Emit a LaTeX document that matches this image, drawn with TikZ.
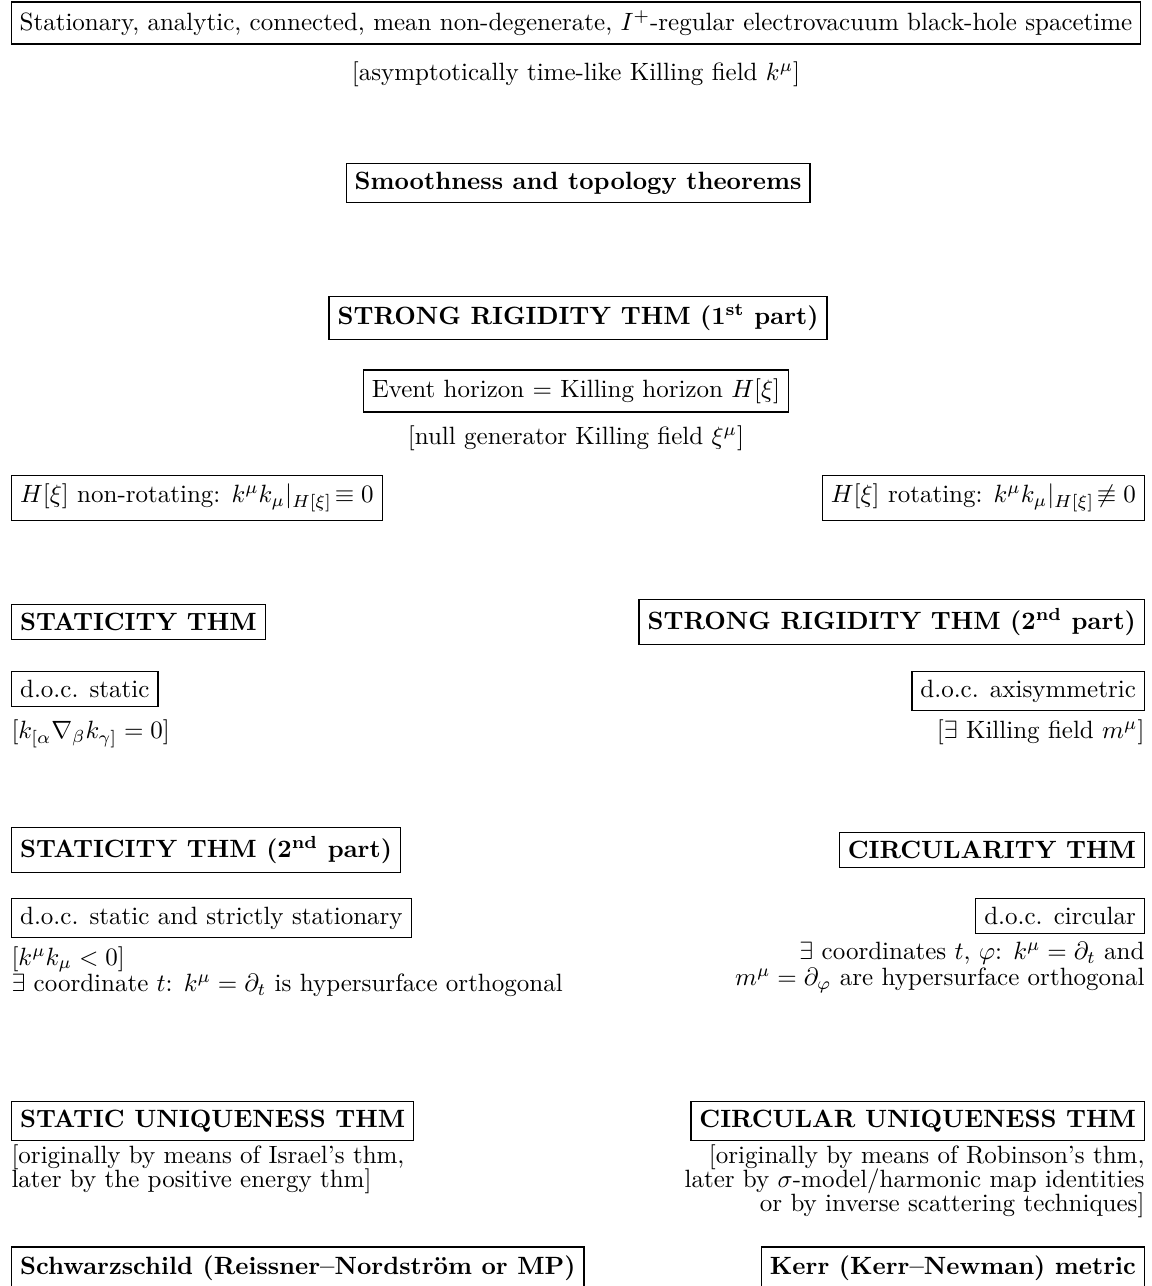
\documentclass[tikz,border=0pt]{standalone}
\usepackage{amsmath}
\usepackage{amssymb}
\usetikzlibrary{positioning}

\begin{document}
\begin{tikzpicture}[
    x=0.4pt, y=-0.4pt,
    box/.style={draw, line width=0.5pt, inner sep=3.4pt},
    thm/.style={box, font=\bfseries},
    note/.style={inner sep=0pt},
    node distance=5pt
]
\useasboundingbox (0,0) rectangle (1152,1286);

% centre column
\node[box] (bh) at (576,23) {Stationary, analytic, connected, mean non-degenerate, $I^+$-regular electrovacuum black-hole spacetime};
\node[note, below=6.5pt of bh] (kfield) {[asymptotically time-like Killing field $k^\mu$]};
\node[thm] (smooth) at (578,183) {Smoothness and topology theorems};
\node[thm] (rigid1) at (578,318) {STRONG RIGIDITY THM (1\textsuperscript{st} part)};
\node[box] (horizon) at (576,391) {Event horizon $=$ Killing horizon $H[\xi]$};
\node[note, below=of horizon] (nullgen) {[null generator Killing field $\xi^\mu$]};

% left column: non-rotating branch
\node[box, anchor=west] (nonrot) at (11,498) {$H[\xi]$ non-rotating: $k^\mu k_\mu|_{H[\xi]}\!\equiv 0$};
\node[thm, anchor=west] (stat1) at (11,622) {STATICITY THM};
\node[box, anchor=west] (static) at (11,689) {d.o.c. static};
\node[note, below=of static.south west, anchor=north west] (staticnote) {$[k_{[\alpha}\nabla_\beta k_{\gamma]}=0]$};
\node[thm, anchor=west] (stat2) at (11,850) {STATICITY THM (2\textsuperscript{nd} part)};
\node[box, anchor=west] (strict) at (11,918) {d.o.c. static and strictly stationary};
\node[note, align=left, below=3pt of strict.south west, anchor=north west] (strictnote)
  {[$k^\mu k_\mu<0$]\\[-1.5pt] $\exists$ coordinate $t$: $k^\mu=\partial_t$ is hypersurface orthogonal};
\node[thm, anchor=west] (suniq) at (11,1121) {STATIC UNIQUENESS THM};
\node[note, align=left, below=1pt of suniq.south west, anchor=north west] (suniqnote)
  {[originally by means of Israel's thm,\\[-2.4pt] later by the positive energy thm]};
\node[thm, anchor=west] (schw) at (11,1268) {Schwarzschild (Reissner--Nordstr\"om or MP)};

% right column: rotating branch
\node[box, anchor=east] (rot) at (1145,498) {$H[\xi]$ rotating: $k^\mu k_\mu|_{H[\xi]}\!\not\equiv 0$};
\node[thm, anchor=east] (rigid2) at (1145,622) {STRONG RIGIDITY THM (2\textsuperscript{nd} part)};
\node[box, anchor=east] (axi) at (1145,691) {d.o.c. axisymmetric};
\node[note, below=3pt of axi.south east, anchor=north east] (axinote) {[$\exists$ Killing field $m^\mu$]};
\node[thm, anchor=east] (circ) at (1145,850) {CIRCULARITY THM};
\node[box, anchor=east] (circular) at (1145,916) {d.o.c. circular};
\node[note, align=right, below=3pt of circular.south east, anchor=north east] (circnote)
  {$\exists$ coordinates $t$, $\varphi$: $k^\mu=\partial_t$ and\\[-1.5pt] $m^\mu=\partial_\varphi$ are hypersurface orthogonal};
\node[thm, anchor=east] (cuniq) at (1145,1121) {CIRCULAR UNIQUENESS THM};
\node[note, align=right, below=1pt of cuniq.south east, anchor=north east] (cuniqnote)
  {[originally by means of Robinson's thm,\\[-2.4pt] later by $\sigma$-model/harmonic map identities\\[-2.4pt] or by inverse scattering techniques]};
\node[thm, anchor=east] (kerr) at (1145,1268) {Kerr (Kerr--Newman) metric};
\end{tikzpicture}
\end{document}
